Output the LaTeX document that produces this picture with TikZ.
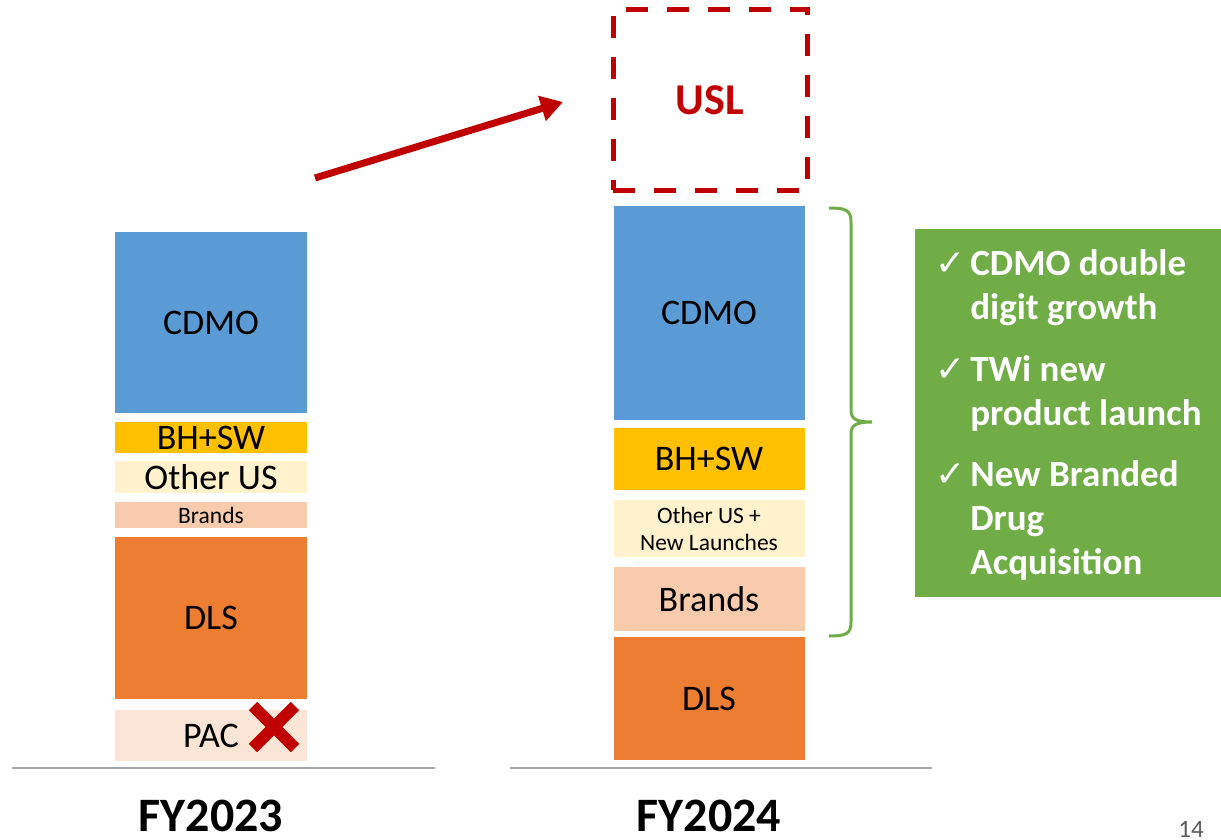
\documentclass[tikz,border=0pt]{standalone}
\usepackage{fontspec}
\setmainfont{Carlito}
\newfontfamily\chkfont{DejaVu Sans}
\usepackage{tikz}
\usetikzlibrary{arrows.meta,shapes.misc,positioning}

\definecolor{cdmoblue}{HTML}{5B9BD5}
\definecolor{bhswgold}{HTML}{FFC000}
\definecolor{otherus}{HTML}{FFF2CC}
\definecolor{brandpeach}{HTML}{F8CBAD}
\definecolor{dlsorange}{HTML}{ED7D31}
\definecolor{pacpeach}{HTML}{FBE5D6}
\definecolor{uslred}{HTML}{C00000}
\definecolor{growgreen}{HTML}{70AD47}
\definecolor{axisgray}{HTML}{A6A6A6}
\definecolor{pagegray}{HTML}{595959}

\tikzset{
  bar/.style={inner sep=0pt, outer sep=0pt},
  barlabel/.style={inner sep=0pt, align=center, text=black},
  yearlabel/.style={inner sep=0pt, font=\bfseries\fontsize{48}{48}\selectfont},
  baseline rule/.style={axisgray, line width=1.5pt},
}
\newcommand{\tick}{{\chkfont\mdseries\fontsize{36}{36}\selectfont ✓}}

\begin{document}
\begin{tikzpicture}[x=1pt,y=-1pt]
\useasboundingbox (0,0) rectangle (1221,840);
% FY2023 stack
\foreach \yc/\hgt/\col/\nm/\fsz/\txt in {
    322.5/181/cdmoblue/cdmoA/36/CDMO,
    437.5/31/bhswgold/bhswA/36/BH+SW,
    477/32/otherus/otherA/36/Other US,
    515/26/brandpeach/brandsA/23.5/Brands,
    618/162/dlsorange/dlsA/36/DLS,
    735.5/51/pacpeach/pacA/36/PAC} {
    \node[bar, fill=\col, minimum width=192, minimum height=\hgt] (\nm) at (211,\yc) {};
    \node[barlabel, font=\fontsize{\fsz}{27}\selectfont] (\nm-t) at (\nm) {\txt};
}
% PAC dropped
\node[cross out, draw=uslred, line width=12pt, minimum size=30pt, inner sep=0pt] (pacX) at (274,727) {};

% FY2024 stack
\foreach \yc/\hgt/\col/\nm/\fsz/\txt in {
    313/214/cdmoblue/cdmoB/36/CDMO,
    459/62/bhswgold/bhswB/36/BH+SW,
    528.5/57/otherus/otherB/23.5/{Other US +\\New Launches},
    599/64/brandpeach/brandsB/36/Brands,
    698.5/123/dlsorange/dlsB/36/DLS} {
    \node[bar, fill=\col, minimum width=191, minimum height=\hgt] (\nm) at (709,\yc) {};
    \node[barlabel, font=\fontsize{\fsz}{27}\selectfont] (\nm-t) at (\nm) {\txt};
}

% USL acquisition
\node[draw=uslred, line width=5pt, dash pattern=on 22pt off 19pt,
      minimum width=194pt, minimum height=180pt, text=uslred,
      font=\bfseries\fontsize{44}{44}\selectfont] (usl) at (710,100) {USL};
\coordinate (arrowS) at (315,178);
\coordinate (arrowE) at (563,102);
\draw[uslred, line width=7pt, -{Triangle[length=22pt,width=25pt]}] (arrowS) -- (arrowE);

% axis lines and years
\draw[baseline rule] (12,768) -- (435,768);
\draw[baseline rule] (510,768) -- (932,768);
\node[yearlabel] (fy23) at (211,816) {FY2023};
\node[yearlabel] (fy24) at (709,816) {FY2024};

% brace over growth segments
\draw[growgreen, line width=3pt]
    (829,208) .. controls (846,208) and (851,210) .. (851,222) -- (851,410)
    .. controls (851,419) and (856,422) .. (872,422)
    .. controls (856,422) and (851,425) .. (851,434) -- (851,622)
    .. controls (851,634) and (846,636) .. (829,636);

% growth drivers
\node[fill=growgreen, minimum width=306pt, minimum height=368pt, inner sep=0pt] (growth) at (1068,413) {};
\node[anchor=base west, inner sep=0pt, text=white, font=\bfseries\fontsize{37}{44}\selectfont] (growth-t) at (935,275) {%
  \begin{tabular}[t]{@{}l@{\hspace{5pt}}l@{}}
    \tick & CDMO double\\
     & digit growth\\[18pt]
    \tick & TWi new\\
     & product launch\\[17pt]
    \tick & New Branded\\
     & Drug\\
     & Acquisition
  \end{tabular}};

\node[inner sep=0pt, text=pagegray, font=\fontsize{25}{25}\selectfont] (pagenum) at (1191,829) {14};
\end{tikzpicture}
\end{document}
